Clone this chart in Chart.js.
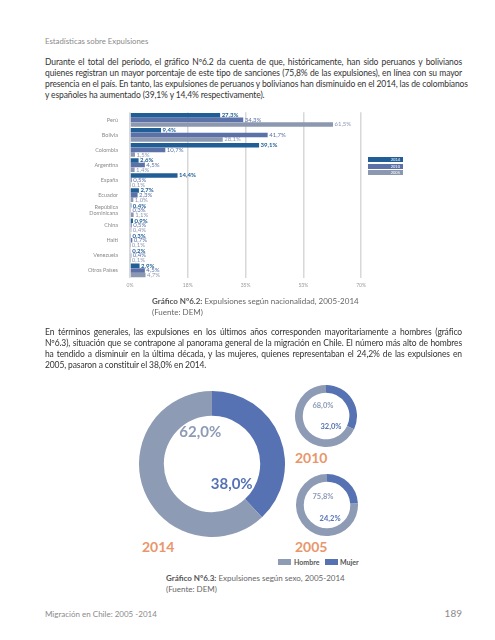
<!DOCTYPE html>
<html>
<head>
<meta charset="utf-8">
<script src="https://cdn.jsdelivr.net/npm/chart.js@4.4.0/dist/chart.umd.min.js"></script>
<style>
  body { margin: 0; background: #fff; font-family: Lato, sans-serif; }
  #pagina { position: relative; width: 495px; height: 640px; overflow: hidden; }
  .abs { position: absolute; }
  .cabecera { left: 45px; top: 36px; font-size: 7.8px; color: #8a8a8a; }
  .parrafo { left: 45px; width: 417px; font-size: 8.5px; line-height: 11px; color: #333; letter-spacing: -0.12px; }
  .parrafo div { white-space: nowrap; text-align: justify; text-align-last: justify; }
  .parrafo div.ult { text-align-last: left; }
  .leyenda { left: 368px; width: 35px; height: 5px; color: #fff; font-size: 4px; line-height: 5px; text-align: right; box-sizing: border-box; padding-right: 3px; }
  .pie { font-size: 8px; line-height: 10.5px; color: #666; }
  .pie b { color: #555; }
  .anio { font-size: 14px; font-weight: bold; color: #e9966b; }
  .ley2 { top: 559px; height: 7px; font-size: 7px; line-height: 7px; font-weight: bold; color: #555; }
  .cuadro { width: 13px; height: 6px; }
</style>
</head>
<body>
<div id="pagina">
  <div class="abs cabecera">Estadísticas sobre Expulsiones</div>

  <div class="abs parrafo" style="top:56.5px">
    <div>Durante el total del período, el gráfico Nº6.2 da cuenta de que, históricamente, han sido peruanos y bolivianos</div>
    <div>quienes registran un mayor porcentaje de este tipo de sanciones (75,8% de las expulsiones), en línea con su mayor</div>
    <div>presencia en el país. En tanto, las expulsiones de peruanos y bolivianos han disminuido en el 2014, las de colombianos</div>
    <div class="ult">y españoles ha aumentado (39,1% y 14,4% respectivamente).</div>
  </div>

  <canvas id="barras" class="abs" width="315" height="195" style="left:55px;top:105px"></canvas>

  <div class="abs leyenda" style="top:157px;background:#215e96">2014</div>
  <div class="abs leyenda" style="top:163.5px;background:#5b71a8">2010</div>
  <div class="abs leyenda" style="top:170px;background:#8c98b0">2005</div>

  <div class="abs pie" style="left:152px;top:296px"><b>Gráfico Nº6.2:</b> Expulsiones según nacionalidad, 2005-2014<br>(Fuente: DEM)</div>

  <div class="abs parrafo" style="top:326.5px">
    <div>En términos generales, las expulsiones en los últimos años corresponden mayoritariamente a hombres (gráfico</div>
    <div>Nº6.3), situación que se contrapone al panorama general de la migración en Chile. El número más alto de hombres</div>
    <div>ha tendido a disminuir en la última década, y las mujeres, quienes representaban el 24,2% de las expulsiones en</div>
    <div class="ult">2005, pasaron a constituir el 38,0% en 2014.</div>
  </div>

  <canvas id="dona2014" class="abs" width="146" height="146" style="left:139px;top:391px"></canvas>
  <canvas id="dona2010" class="abs" width="62" height="62" style="left:295px;top:385px"></canvas>
  <canvas id="dona2005" class="abs" width="62" height="62" style="left:296px;top:474px"></canvas>

  <div class="abs anio" style="left:142px;top:538px">2014</div>
  <div class="abs anio" style="left:295px;top:449px">2010</div>
  <div class="abs anio" style="left:295px;top:538px">2005</div>

  <div class="abs cuadro" style="left:278px;top:559px;background:#8d9bb5"></div>
  <div class="abs ley2" style="left:294px">Hombre</div>
  <div class="abs cuadro" style="left:325px;top:559px;background:#5672b2"></div>
  <div class="abs ley2" style="left:340px">Mujer</div>

  <div class="abs pie" style="left:166px;top:572.5px;line-height:11px"><b>Gráfico Nº6.3:</b> Expulsiones según sexo, 2005-2014<br>(Fuente: DEM)</div>

  <div class="abs" style="left:45px;top:609px;font-size:8px;color:#8a8a8a">Migración en Chile: 2005 -2014</div>
  <div class="abs" style="left:440px;width:22px;top:607px;font-size:10px;color:#8a8a8a;text-align:right">189</div>
</div>

<script>
// datos gráfico 6.2
const categorias = ['Perú', 'Bolivia', 'Colombia', 'Argentina', 'España', 'Ecuador', ['República', 'Dominicana'], 'China', 'Haití', 'Venezuela', 'Otros Países'];
const anios = ['2014', '2010', '2005'];
const valores2014 = [27.3, 9.4, 39.1, 2.6, 14.4, 2.7, 0.4, 0.9, 0.3, 0.2, 2.9];
const valores2010 = [34.3, 41.7, 10.7, 4.5, 0.5, 2.3, 0.3, 0.5, 0.7, 0.4, 4.5];
const valores2005 = [61.5, 28.1, 1.5, 1.4, 0.1, 1.0, 1.1, 0.4, 0.1, 0.1, 4.7];
const ticksX = [0, 17.5, 35, 52.5, 70];

// datos gráfico 6.3
const sexos = ['Mujer', 'Hombre'];
const sexo2014 = [38.0, 62.0];
const sexo2010 = [32.0, 68.0];
const sexo2005 = [24.2, 75.8];

Chart.defaults.font.family = 'Lato';

function pct(v) {
  return v.toFixed(1).replace('.', ',') + '%';
}

const etiquetasBarras = {
  id: 'etiquetasBarras',
  afterDatasetsDraw(chart) {
    const ctx = chart.ctx;
    chart.data.datasets.forEach((ds, i) => {
      chart.getDatasetMeta(i).data.forEach((bar, j) => {
        ctx.save();
        ctx.font = (i == 0 ? 'bold ' : '') + '6px Lato';
        ctx.fillStyle = ds.colorTexto;
        ctx.textBaseline = 'middle';
        ctx.fillText(pct(ds.data[j]), bar.x + 1.5, bar.y);
        ctx.restore();
      });
    });
  }
};

new Chart(document.getElementById('barras'), {
  type: 'bar',
  data: {
    labels: categorias,
    datasets: [
      { label: anios[0], data: valores2014, backgroundColor: '#215e96', colorTexto: '#215e96' },
      { label: anios[1], data: valores2010, backgroundColor: '#5b71a8', colorTexto: '#5b71a8' },
      { label: anios[2], data: valores2005, backgroundColor: '#8c98b0', colorTexto: '#8c98b0' }
    ]
  },
  options: {
    indexAxis: 'y',
    responsive: false,
    animation: false,
    layout: { padding: { top: 7, right: 8, bottom: 8, left: 0 } },
    datasets: { bar: { categoryPercentage: 0.92, barPercentage: 0.98, borderWidth: 0 } },
    plugins: { legend: { display: false }, tooltip: { enabled: false } },
    scales: {
      x: {
        min: 0,
        max: 70,
        afterBuildTicks: (axis) => { axis.ticks = ticksX.map(v => ({ value: v })); },
        grid: { color: '#d8d8d8', lineWidth: 1.5, drawTicks: false },
        border: { display: false },
        ticks: { color: '#9a9a9a', font: { size: 5 }, padding: 4, callback: (v) => Math.round(v) + '%' }
      },
      y: {
        afterFit: (axis) => { axis.width = 75; },
        grid: { display: false },
        border: { display: false },
        ticks: { color: '#8a8a8a', font: { size: 5.5 }, padding: 4, autoSkip: false }
      }
    }
  },
  plugins: [etiquetasBarras]
});

const textosDona = {
  id: 'textosDona',
  afterDraw(chart) {
    const opts = chart.options.plugins.textosDona;
    const arc = chart.getDatasetMeta(0).data[0];
    const ctx = chart.ctx;
    chart.data.datasets[0].data.forEach((v, i) => {
      const t = opts.items[i];
      ctx.save();
      ctx.font = 'bold ' + opts.size + 'px Lato';
      ctx.fillStyle = t.color;
      ctx.textAlign = 'center';
      ctx.textBaseline = 'middle';
      ctx.fillText(pct(v), arc.x + t.dx * arc.outerRadius, arc.y + t.dy * arc.outerRadius);
      ctx.restore();
    });
  }
};

function dona(id, datos, cutout, size, items) {
  new Chart(document.getElementById(id), {
    type: 'doughnut',
    data: {
      labels: sexos,
      datasets: [{ data: datos, backgroundColor: ['#5672b2', '#8d9bb5'], borderWidth: 0 }]
    },
    options: {
      responsive: false,
      animation: false,
      cutout: cutout,
      plugins: { legend: { display: false }, tooltip: { enabled: false }, textosDona: { size: size, items: items } }
    },
    plugins: [textosDona]
  });
}

dona('dona2014', sexo2014, '66%', 15, [
  { color: '#5672b2', dx: 0.27, dy: 0.28 },
  { color: '#8d9bb5', dx: -0.16, dy: -0.44 }
]);
dona('dona2010', sexo2010, '75%', 7.5, [
  { color: '#5672b2', dx: 0.16, dy: 0.35 },
  { color: '#8d9bb5', dx: -0.1, dy: -0.34 }
]);
dona('dona2005', sexo2005, '75%', 7.5, [
  { color: '#5672b2', dx: 0.1, dy: 0.43 },
  { color: '#8d9bb5', dx: -0.13, dy: -0.26 }
]);
</script>
</body>
</html>
